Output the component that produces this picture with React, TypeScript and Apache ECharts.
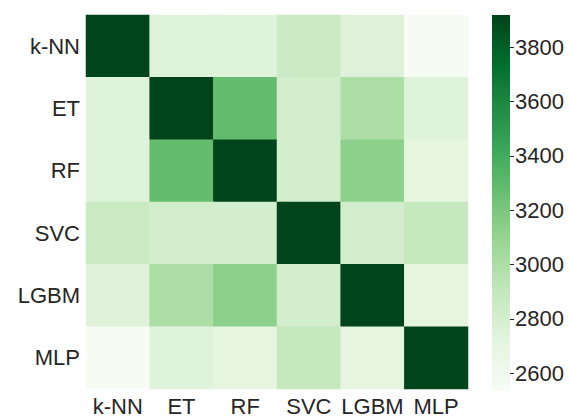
import React, { useEffect, useRef } from "react";
import * as echarts from "echarts";

const models = ["k-NN", "ET", "RF", "SVC", "LGBM", "MLP"];
// symmetric matrix, row by row (top to bottom)
const matrix = [
  [3918, 2740, 2740, 2870, 2745, 2540],
  [2740, 3918, 3280, 2820, 3000, 2740],
  [2740, 3280, 3918, 2815, 3130, 2710],
  [2870, 2820, 2815, 3918, 2820, 2890],
  [2745, 3000, 3130, 2820, 3918, 2710],
  [2540, 2740, 2710, 2890, 2710, 3918],
];
const colorbarTicks = [2600, 2800, 3000, 3200, 3400, 3600, 3800];
const vMin = 2535;
const vMax = 3918;
const greens = ["#f7fcf5", "#e5f5e0", "#c7e9c0", "#a1d99b", "#74c476", "#41ab5d", "#238b45", "#006d2c", "#00441b"];

export default function App() {
  const ref = useRef<HTMLDivElement>(null);
  useEffect(() => {
    if (!ref.current) return;
    const chart = echarts.init(ref.current, null, { renderer: "svg" });
    const data: number[][] = [];
    matrix.forEach((row, r) => row.forEach((v, c) => data.push([c, r, v])));
    const font = "'Liberation Sans', Arial, sans-serif";
    const txt = "#262626";
    const fs = 22;
    chart.setOption({
      animation: false,
      backgroundColor: "#ffffff",
      grid: [
        { left: 86, top: 15, width: 382, height: 376 },
        { left: 492, top: 15, width: 18, height: 376 },
      ],
      xAxis: [
        {
          type: "category",
          gridIndex: 0,
          data: models,
          axisLine: { show: false },
          axisTick: { show: false },
          axisLabel: { fontSize: fs, color: txt, fontFamily: font, margin: 6, interval: 0 },
          splitLine: { show: false },
        },
        {
          type: "category",
          gridIndex: 1,
          data: ["cb"],
          axisLine: { show: false },
          axisTick: { show: false },
          axisLabel: { show: false },
        },
      ],
      yAxis: [
        {
          type: "category",
          gridIndex: 0,
          data: models,
          inverse: true,
          axisLine: { show: false },
          axisTick: { show: false },
          axisLabel: { fontSize: fs, color: txt, fontFamily: font, margin: 6, interval: 0 },
          splitLine: { show: false },
        },
        {
          type: "value",
          gridIndex: 1,
          position: "right",
          min: vMin,
          max: vMax,
          axisLine: { show: false },
          splitLine: { show: false },
          axisTick: {
            show: true,
            length: 4,
            lineStyle: { color: txt, width: 1 },
            customValues: colorbarTicks,
          },
          axisLabel: {
            fontSize: fs,
            color: txt,
            fontFamily: font,
            margin: 5,
            customValues: colorbarTicks,
            formatter: (v: number) => String(v),
          },
        },
      ],
      visualMap: {
        show: false,
        type: "continuous",
        min: vMin,
        max: vMax,
        seriesIndex: 0,
        inRange: { color: greens },
      },
      series: [
        {
          type: "heatmap",
          xAxisIndex: 0,
          yAxisIndex: 0,
          data,
          itemStyle: { borderWidth: 0 },
          emphasis: { disabled: true },
        },
        {
          type: "bar",
          xAxisIndex: 1,
          yAxisIndex: 1,
          data: [vMax],
          barWidth: "100%",
          itemStyle: {
            color: new echarts.graphic.LinearGradient(
              0,
              0,
              0,
              1,
              greens
                .slice()
                .reverse()
                .map((c, i) => ({ offset: i / (greens.length - 1), color: c }))
            ),
          },
        },
      ],
    });
    return () => chart.dispose();
  }, []);
  return (
    <div
      ref={ref}
      style={{ position: "fixed", left: 0, top: 0, width: 569, height: 417, background: "#fff" }}
    />
  );
}
